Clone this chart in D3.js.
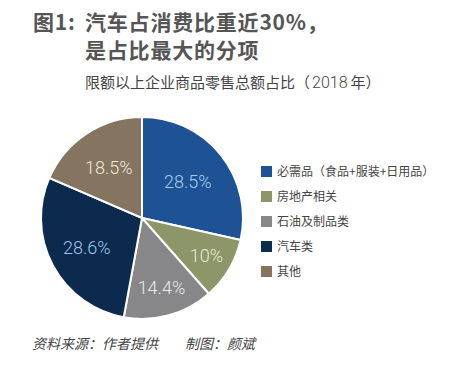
<!DOCTYPE html>
<html><head><meta charset="utf-8">
<script src="https://cdn.jsdelivr.net/npm/d3@7"></script>
<style>
body{margin:0;background:#fff;}
svg{display:block;font-family:"Noto Sans CJK SC","Noto Sans",sans-serif;}
</style></head>
<body><svg id="c" width="459" height="377"></svg>
<script>
const categories = ["必需品（食品+服装+日用品）","房地产相关","石油及制品类","汽车类","其他"];
const values = [28.5, 10, 14.4, 28.6, 18.5];
const valueLabels = ["28.5%","10%","14.4%","28.6%","18.5%"];
const colors = ["#1d5294","#8c9669","#87878a","#0b2a4e","#857560"];
const labelColors = ["#a8ccf0","#e6e9d6","#e8e8e8","#9ec3ea","#f0e6d6"];
const labelRadius = [0.58, 0.74, 0.72, 0.62, 0.6];

const svg = d3.select("#c");
svg.append("rect").attr("width",459).attr("height",377).attr("fill","#fff");

// Titles
const tStyle = s => s.attr("font-size",21).attr("font-weight","bold").attr("fill","#555").attr("letter-spacing",0.8);
svg.append("text").attr("x",33).attr("y",30).call(tStyle).text("图1:");
svg.append("text").attr("x",85).attr("y",30).call(tStyle).text("汽车占消费比重近30%，");
svg.append("text").attr("x",85).attr("y",58).call(tStyle).text("是占比最大的分项");
const sub = svg.append("text").attr("x",85).attr("y",88).attr("font-size",15).attr("fill","#444");
sub.append("tspan").text("限额以上企业商品零售总额占比（");
sub.append("tspan").attr("dx",2).attr("font-family","Roboto, 'Noto Sans', sans-serif").attr("font-weight",300).attr("font-size",16).text("2018");
sub.append("tspan").attr("dx",3).text("年）");

const cx = 142, cy = 218, r = 101;
const pie = d3.pie().sort(null).value(d=>d)(values);
const arc = d3.arc().innerRadius(0).outerRadius(r);
const g = svg.append("g").attr("transform",`translate(${cx},${cy})`);
g.selectAll("path").data(pie).join("path")
  .attr("d",arc).attr("fill",(d,i)=>colors[i]).attr("stroke","#fff").attr("stroke-width",2);
g.selectAll("text").data(pie).join("text")
  .attr("transform",(d,i)=>{
    const la = d3.arc().innerRadius(r*labelRadius[i]).outerRadius(r*labelRadius[i]);
    return `translate(${la.centroid(d)})`;
  })
  .attr("text-anchor","middle").attr("dy","0.35em")
  .attr("font-size",18).attr("font-family","Roboto, 'Noto Sans', sans-serif").attr("font-weight",300)
  .attr("fill",(d,i)=>labelColors[i]).text((d,i)=>valueLabels[i]);

// Legend
const lg = svg.append("g");
const ly = d3.scaleBand().domain(categories).range([159,284]);
categories.forEach((c,i)=>{
  const y = ly(c) + ly.bandwidth()/2;
  lg.append("rect").attr("x",261).attr("y",y-5.5).attr("width",11).attr("height",11).attr("fill",colors[i]);
  lg.append("text").attr("x",277).attr("y",y).attr("dy","0.35em").attr("font-size",12).attr("fill","#444").text(c);
});

// Footer
svg.append("text").attr("x",32).attr("y",349).attr("font-size",14).attr("font-style","italic").attr("fill","#444")
  .text("资料来源：作者提供");
svg.append("text").attr("x",185).attr("y",349).attr("font-size",14).attr("font-style","italic").attr("fill","#444")
  .text("制图：颜斌");
</script></body></html>
